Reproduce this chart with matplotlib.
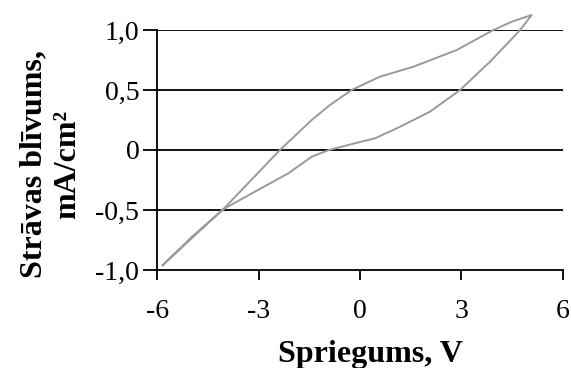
import numpy as np
import matplotlib
matplotlib.use("Agg")
import matplotlib.pyplot as plt

# cikliskā voltamperogramma: anodais (apakšējais) un katodais (augšējais) zars
v_forward = [-5.84, -5.0, -4.05, -3.11, -2.12, -1.43, -0.92, -0.15, 0.44, 1.09, 2.07, 2.96, 3.85, 4.74, 5.08]
i_forward = [-0.96, -0.74, -0.494, -0.347, -0.194, -0.056, 0.0, 0.056, 0.097, 0.181, 0.319, 0.50, 0.736, 1.0, 1.125]
v_reverse = [5.08, 4.5, 3.95, 2.86, 1.58, 0.59, -0.25, -0.89, -1.43, -2.37, -3.2, -4.05, -5.0, -5.84]
i_reverse = [1.125, 1.07, 1.0, 0.833, 0.694, 0.611, 0.50, 0.375, 0.25, 0.0, -0.244, -0.494, -0.73, -0.96]

x_ticks = [-6, -3, 0, 3, 6]
y_ticks = [-1.0, -0.5, 0.0, 0.5, 1.0]
y_labels = ["-1,0", "-0,5", "0", "0,5", "1,0"]

plt.rcParams['font.family'] = ['Liberation Serif', 'DejaVu Serif']

fig = plt.figure(figsize=(5.71, 3.68), dpi=100)
ax = fig.add_axes([0.2755, 0.2663, 0.71, 0.6522])

ax.plot(v_forward + v_reverse[1:], i_forward + i_reverse[1:], color='#9a9a9a', lw=1.4,
        clip_on=False, solid_joinstyle='round')

ax.set_xlim(-6, 6)
ax.set_ylim(-1, 1)
ax.set_xticks(x_ticks)
ax.set_xticklabels([str(t) for t in x_ticks])
ax.set_yticks(y_ticks)
ax.set_yticklabels(y_labels)
for y in y_ticks[1:]:
    ax.axhline(y, color='black', lw=1.3, zorder=0)

for s in ['top', 'right']:
    ax.spines[s].set_visible(False)
for s in ['left', 'bottom']:
    ax.spines[s].set_linewidth(1.3)
ax.tick_params(axis='y', direction='out', length=10, width=1.3, labelsize=20, pad=3)
ax.tick_params(axis='x', direction='out', length=7, width=1.3, labelsize=20, pad=14)

ax.set_xlabel("Spriegums, V", fontsize=23, fontweight='bold')
ax.xaxis.set_label_coords(0.525, -0.29)
ax.set_ylabel("Strāvas blīvums,\nmA/cm²", fontsize=23, fontweight='bold',
              linespacing=1.2)
ax.yaxis.set_label_coords(-0.186, 0.44)

fig.savefig("out.png", dpi=100)
